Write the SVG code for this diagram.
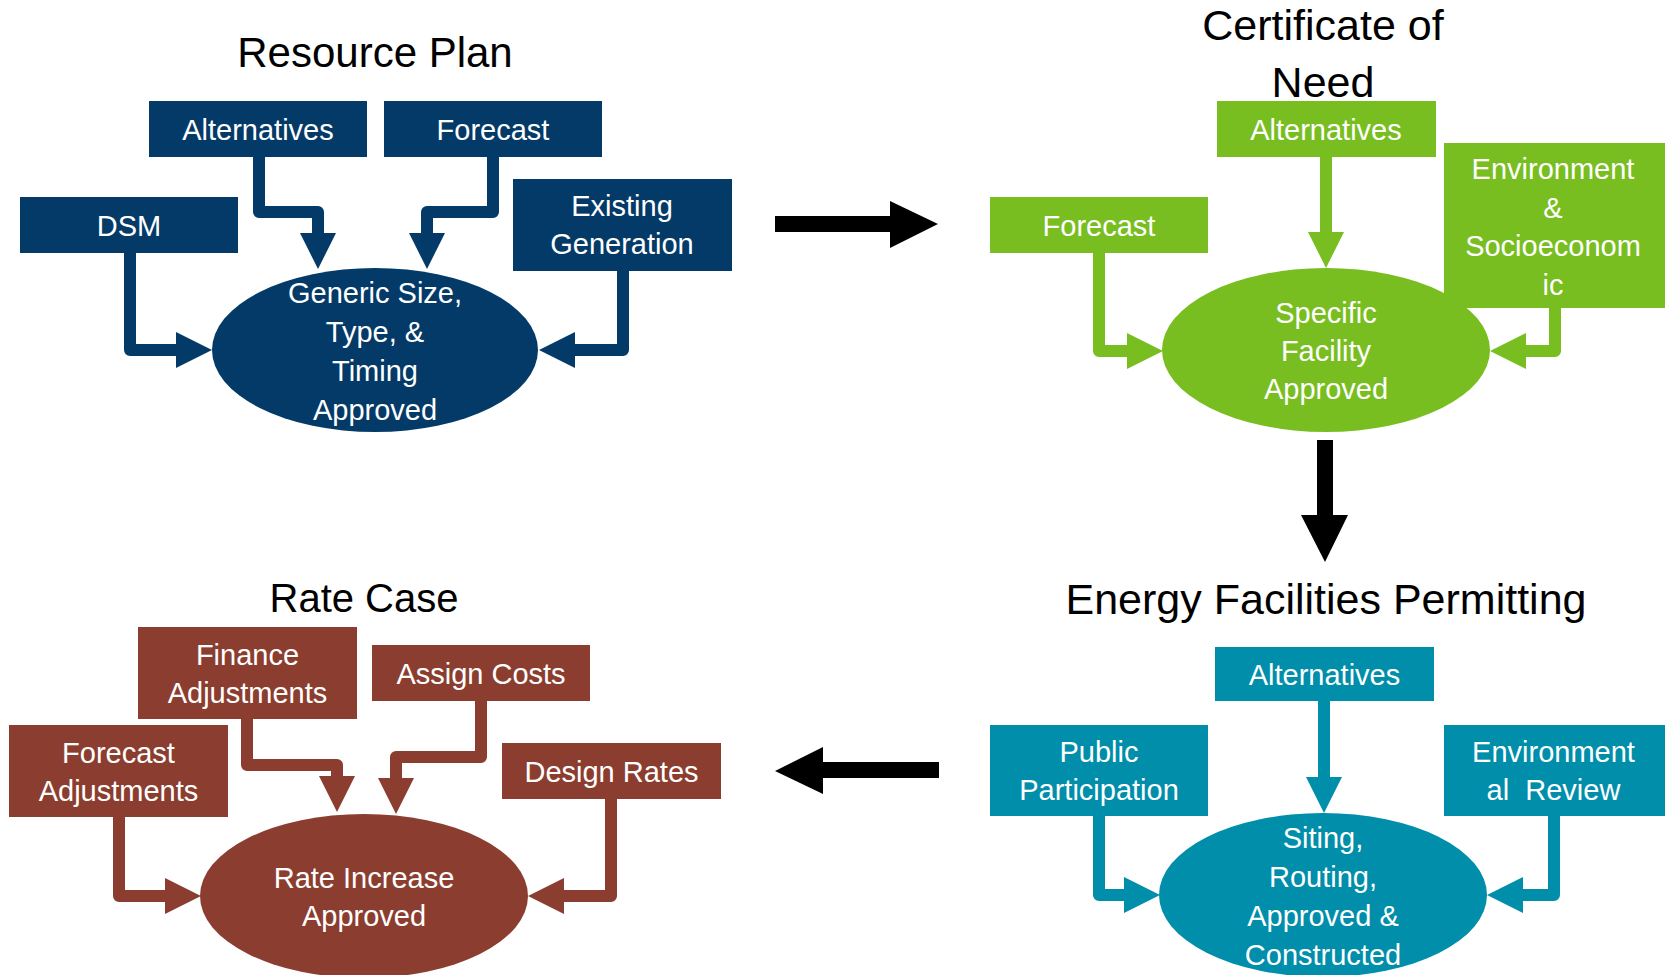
<svg xmlns="http://www.w3.org/2000/svg" width="1665" height="975" viewBox="0 0 1665 975">
<defs>
<style>
text{font-family:"Liberation Sans",Arial,sans-serif;text-anchor:middle}
.title{font-size:42px;fill:#000}
.lbl{font-size:29px;fill:#fff;white-space:pre}
.navy{fill:#043A68}.green{fill:#78BE21}.teal{fill:#008EAA}.brown{fill:#8B3E2F}
.cn{fill:none;stroke-width:12;stroke-linejoin:round}
.cnavy{stroke:#043A68;marker-end:url(#mNavy)}
.cgreen{stroke:#78BE21;marker-end:url(#mGreen)}
.cteal{stroke:#008EAA;marker-end:url(#mTeal)}
.cbrown{stroke:#8B3E2F;marker-end:url(#mBrown)}
</style>
<marker id="mNavy" viewBox="0 0 10 10" refX="0" refY="5" markerWidth="3" markerHeight="3" orient="auto"><path d="M0,0L10,5L0,10z" fill="#043A68"/></marker>
<marker id="mGreen" viewBox="0 0 10 10" refX="0" refY="5" markerWidth="3" markerHeight="3" orient="auto"><path d="M0,0L10,5L0,10z" fill="#78BE21"/></marker>
<marker id="mTeal" viewBox="0 0 10 10" refX="0" refY="5" markerWidth="3" markerHeight="3" orient="auto"><path d="M0,0L10,5L0,10z" fill="#008EAA"/></marker>
<marker id="mBrown" viewBox="0 0 10 10" refX="0" refY="5" markerWidth="3" markerHeight="3" orient="auto"><path d="M0,0L10,5L0,10z" fill="#8B3E2F"/></marker>
</defs>
<rect width="1665" height="975" fill="#fff"/>

<g id="titles">
<text class="title" x="375" y="67">Resource Plan</text>
<text class="title" x="1323" y="40" style="font-size:43px">Certificate of</text>
<text class="title" x="1323" y="97" style="font-size:43px">Need</text>
<text class="title" x="364" y="612" style="font-size:40px">Rate Case</text>
<text class="title" x="1326" y="614" style="font-size:43px">Energy Facilities Permitting</text>
</g>

<g id="connectors">
<path class="cn cnavy" d="M259,157V212H318V233"/>
<path class="cn cnavy" d="M493,157V212H427V233"/>
<path class="cn cnavy" d="M130,253V350H176"/>
<path class="cn cnavy" d="M623,271V350H575"/>
<path class="cn cgreen" d="M1326,157V232"/>
<path class="cn cgreen" d="M1099,253V351H1127"/>
<path class="cn cgreen" d="M1555,308V351H1526"/>
<path class="cn cbrown" d="M247,719V765H337V776"/>
<path class="cn cbrown" d="M481,701V757H396V778"/>
<path class="cn cbrown" d="M119,817V896H165"/>
<path class="cn cbrown" d="M611,799V896H564"/>
<path class="cn cteal" d="M1324,701V777"/>
<path class="cn cteal" d="M1099,816V895H1124"/>
<path class="cn cteal" d="M1554,816V895H1523"/>
<polygon points="775,216 890,216 890,201 938,224 890,248 890,232 775,232" fill="#000"/>
<polygon points="1317,440 1333,440 1333,515 1348,515 1325,562 1301,515 1317,515" fill="#000"/>
<polygon points="939,762 823,762 823,747 775,771 823,794 823,778 939,778" fill="#000"/>
</g>

<g id="rp-alternatives"><rect class="navy" x="149" y="101" width="218" height="56"/><text class="lbl" x="258" y="140">Alternatives</text></g>
<g id="rp-forecast"><rect class="navy" x="384" y="101" width="218" height="56"/><text class="lbl" x="493" y="140">Forecast</text></g>
<g id="rp-dsm"><rect class="navy" x="20" y="197" width="218" height="56"/><text class="lbl" x="129" y="236">DSM</text></g>
<g id="rp-existing"><rect class="navy" x="513" y="179" width="219" height="92"/><text class="lbl" x="622" y="216">Existing</text><text class="lbl" x="622" y="254">Generation</text></g>
<g id="rp-approved"><ellipse class="navy" cx="375" cy="350" rx="163" ry="82"/><text class="lbl" x="375" y="303">Generic Size,</text><text class="lbl" x="375" y="342">Type, &amp;</text><text class="lbl" x="375" y="381">Timing</text><text class="lbl" x="375" y="420">Approved</text></g>

<g id="cn-approved"><ellipse class="green" cx="1326" cy="350" rx="164" ry="82"/><text class="lbl" x="1326" y="323">Specific</text><text class="lbl" x="1326" y="361">Facility</text><text class="lbl" x="1326" y="399">Approved</text></g>
<g id="cn-alternatives"><rect class="green" x="1217" y="101" width="219" height="56"/><text class="lbl" x="1326" y="140">Alternatives</text></g>
<g id="cn-forecast"><rect class="green" x="990" y="197" width="218" height="56"/><text class="lbl" x="1099" y="236">Forecast</text></g>
<g id="cn-environment"><rect class="green" x="1444" y="143" width="221" height="165"/><text class="lbl" x="1553" y="179">Environment</text><text class="lbl" x="1553" y="218">&amp;</text><text class="lbl" x="1553" y="256">Socioeconom</text><text class="lbl" x="1553" y="295">ic</text></g>

<g id="rc-finance"><rect class="brown" x="138" y="627" width="219" height="92"/><text class="lbl" x="247.5" y="665">Finance</text><text class="lbl" x="247.5" y="703">Adjustments</text></g>
<g id="rc-assign"><rect class="brown" x="372" y="645" width="218" height="56"/><text class="lbl" x="481" y="684">Assign Costs</text></g>
<g id="rc-forecast"><rect class="brown" x="9" y="725" width="219" height="92"/><text class="lbl" x="118.5" y="763">Forecast</text><text class="lbl" x="118.5" y="801">Adjustments</text></g>
<g id="rc-design"><rect class="brown" x="502" y="743" width="219" height="56"/><text class="lbl" x="611.5" y="782">Design Rates</text></g>
<g id="rc-approved"><ellipse class="brown" cx="364" cy="896" rx="164" ry="82"/><text class="lbl" x="364" y="888">Rate Increase</text><text class="lbl" x="364" y="926">Approved</text></g>

<g id="ef-alternatives"><rect class="teal" x="1215" y="647" width="219" height="54"/><text class="lbl" x="1324.5" y="685">Alternatives</text></g>
<g id="ef-public"><rect class="teal" x="990" y="725" width="218" height="91"/><text class="lbl" x="1099" y="762">Public</text><text class="lbl" x="1099" y="800">Participation</text></g>
<g id="ef-environmental"><rect class="teal" x="1444" y="725" width="221" height="91"/><text class="lbl" x="1553.5" y="762">Environment</text><text class="lbl" x="1553.5" y="800">al  Review</text></g>
<g id="ef-approved"><ellipse class="teal" cx="1323" cy="895" rx="164" ry="82"/><text class="lbl" x="1323" y="848">Siting,</text><text class="lbl" x="1323" y="887">Routing,</text><text class="lbl" x="1323" y="926">Approved &amp;</text><text class="lbl" x="1323" y="965">Constructed</text></g>
</svg>
